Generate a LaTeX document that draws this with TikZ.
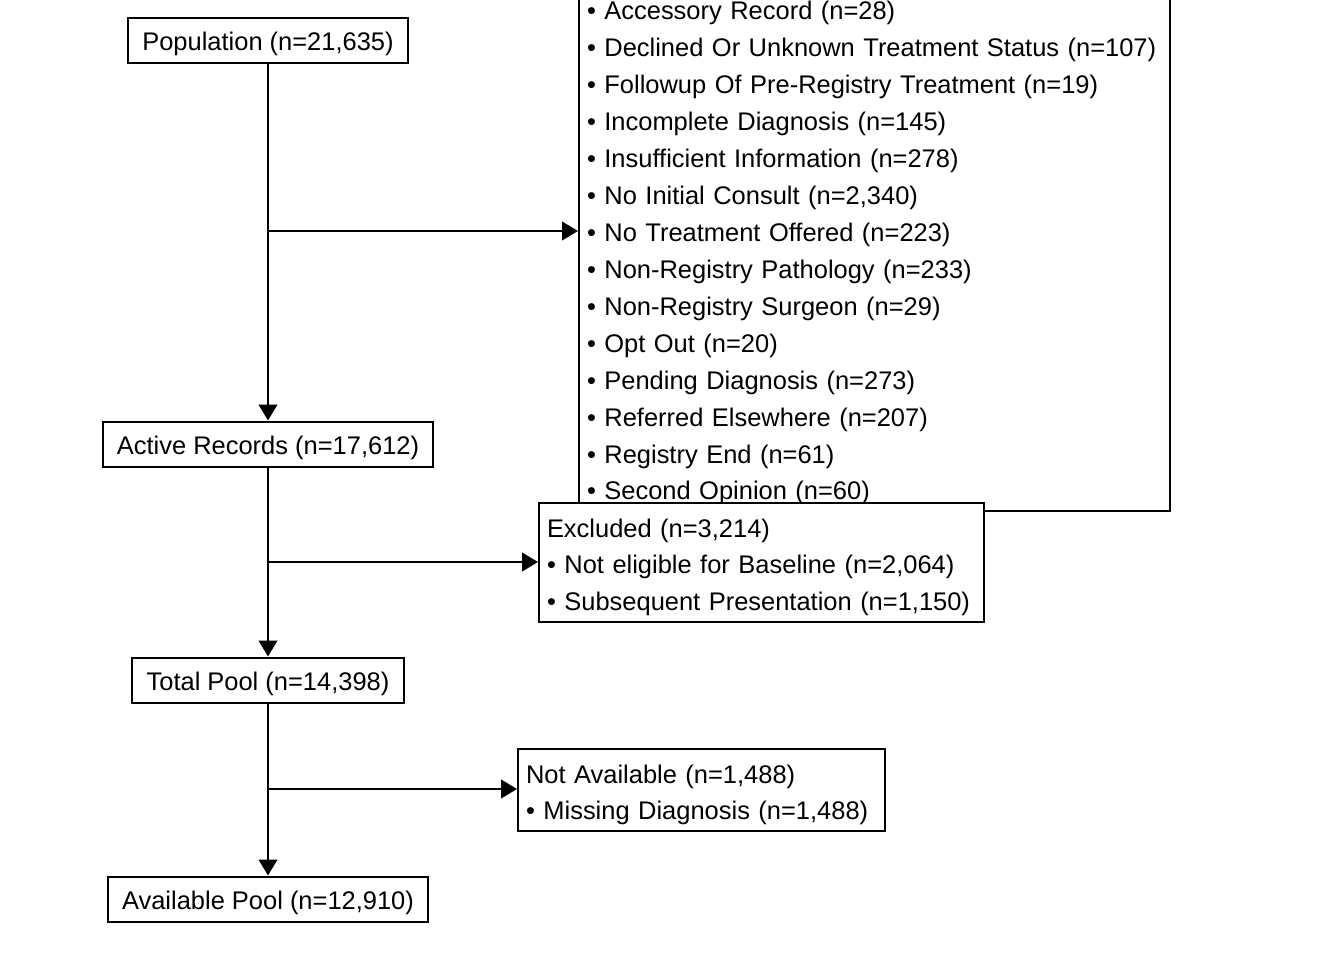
\documentclass[tikz,border=0pt]{standalone}
\usepackage{fontspec}
\setmainfont{Liberation Sans}
\usetikzlibrary{arrows.meta,positioning,calc}

\begin{document}
\begin{tikzpicture}[x=0.75pt, y=-0.75pt,
  font=\fontsize{19.1}{27.7}\selectfont,
  stagebox/.style={draw, line width=1.5pt, fill=white, inner xsep=10.6pt, minimum height=33.75pt,
    text height=16.5pt, text depth=1.5pt},
  listbox/.style={draw, line width=1.5pt, fill=white, align=left, inner xsep=6pt, inner ysep=8pt,
    text height=17.5pt},
  flow/.style={line width=1.5pt, -{Triangle[length=12pt,width=14pt]}}]
\clip (0,0) rectangle (1344,960);

% Stages
\node[stagebox] (pop) at (268,40) {Population (n=21,635)};
\node[stagebox] (act) at (268,444) {Active Records (n=17,612)};
\node[stagebox] (tot) at (268,680) {Total Pool (n=14,398)};
\node[stagebox] (avail) at (268,899) {Available Pool (n=12,910)};

% Exclusion reasons (top cut off)
\node[listbox, text width=431.25pt, text depth=360.4pt, anchor=south west] (reasons) at (578,512) {%
  • Accessory Record (n=28)\\
  • Declined Or Unknown Treatment Status (n=107)\\
  • Followup Of Pre-Registry Treatment (n=19)\\
  • Incomplete Diagnosis (n=145)\\
  • Insufficient Information (n=278)\\
  • No Initial Consult (n=2,340)\\
  • No Treatment Offered (n=223)\\
  • Non-Registry Pathology (n=233)\\
  • Non-Registry Surgeon (n=29)\\
  • Opt Out (n=20)\\
  • Pending Diagnosis (n=273)\\
  • Referred Elsewhere (n=207)\\
  • Registry End (n=61)\\
  • Second Opinion (n=60)};

% Excluded
\node[listbox, text width=321.75pt, text depth=55.7pt, anchor=north west] (excl) at (538,502) {%
  Excluded (n=3,214)\\
  • Not eligible for Baseline (n=2,064)\\
  • Subsequent Presentation (n=1,150)};

% Not available
\node[listbox, text width=263.25pt, text depth=28pt, anchor=north west] (na) at (517,748) {%
  Not Available (n=1,488)\\
  • Missing Diagnosis (n=1,488)};

% Connectors
\coordinate (b1) at (268,231);
\coordinate (b2) at (268,562);
\coordinate (b3) at (268,789);
\draw[flow] (pop) -- (act);
\draw[flow] (act) -- (tot);
\draw[flow] (tot) -- (avail);
\draw[flow] (b1) -- (b1 -| reasons.west);
\draw[flow] (b2) -- (b2 -| excl.west);
\draw[flow] (b3) -- (b3 -| na.west);
\end{tikzpicture}
\end{document}
